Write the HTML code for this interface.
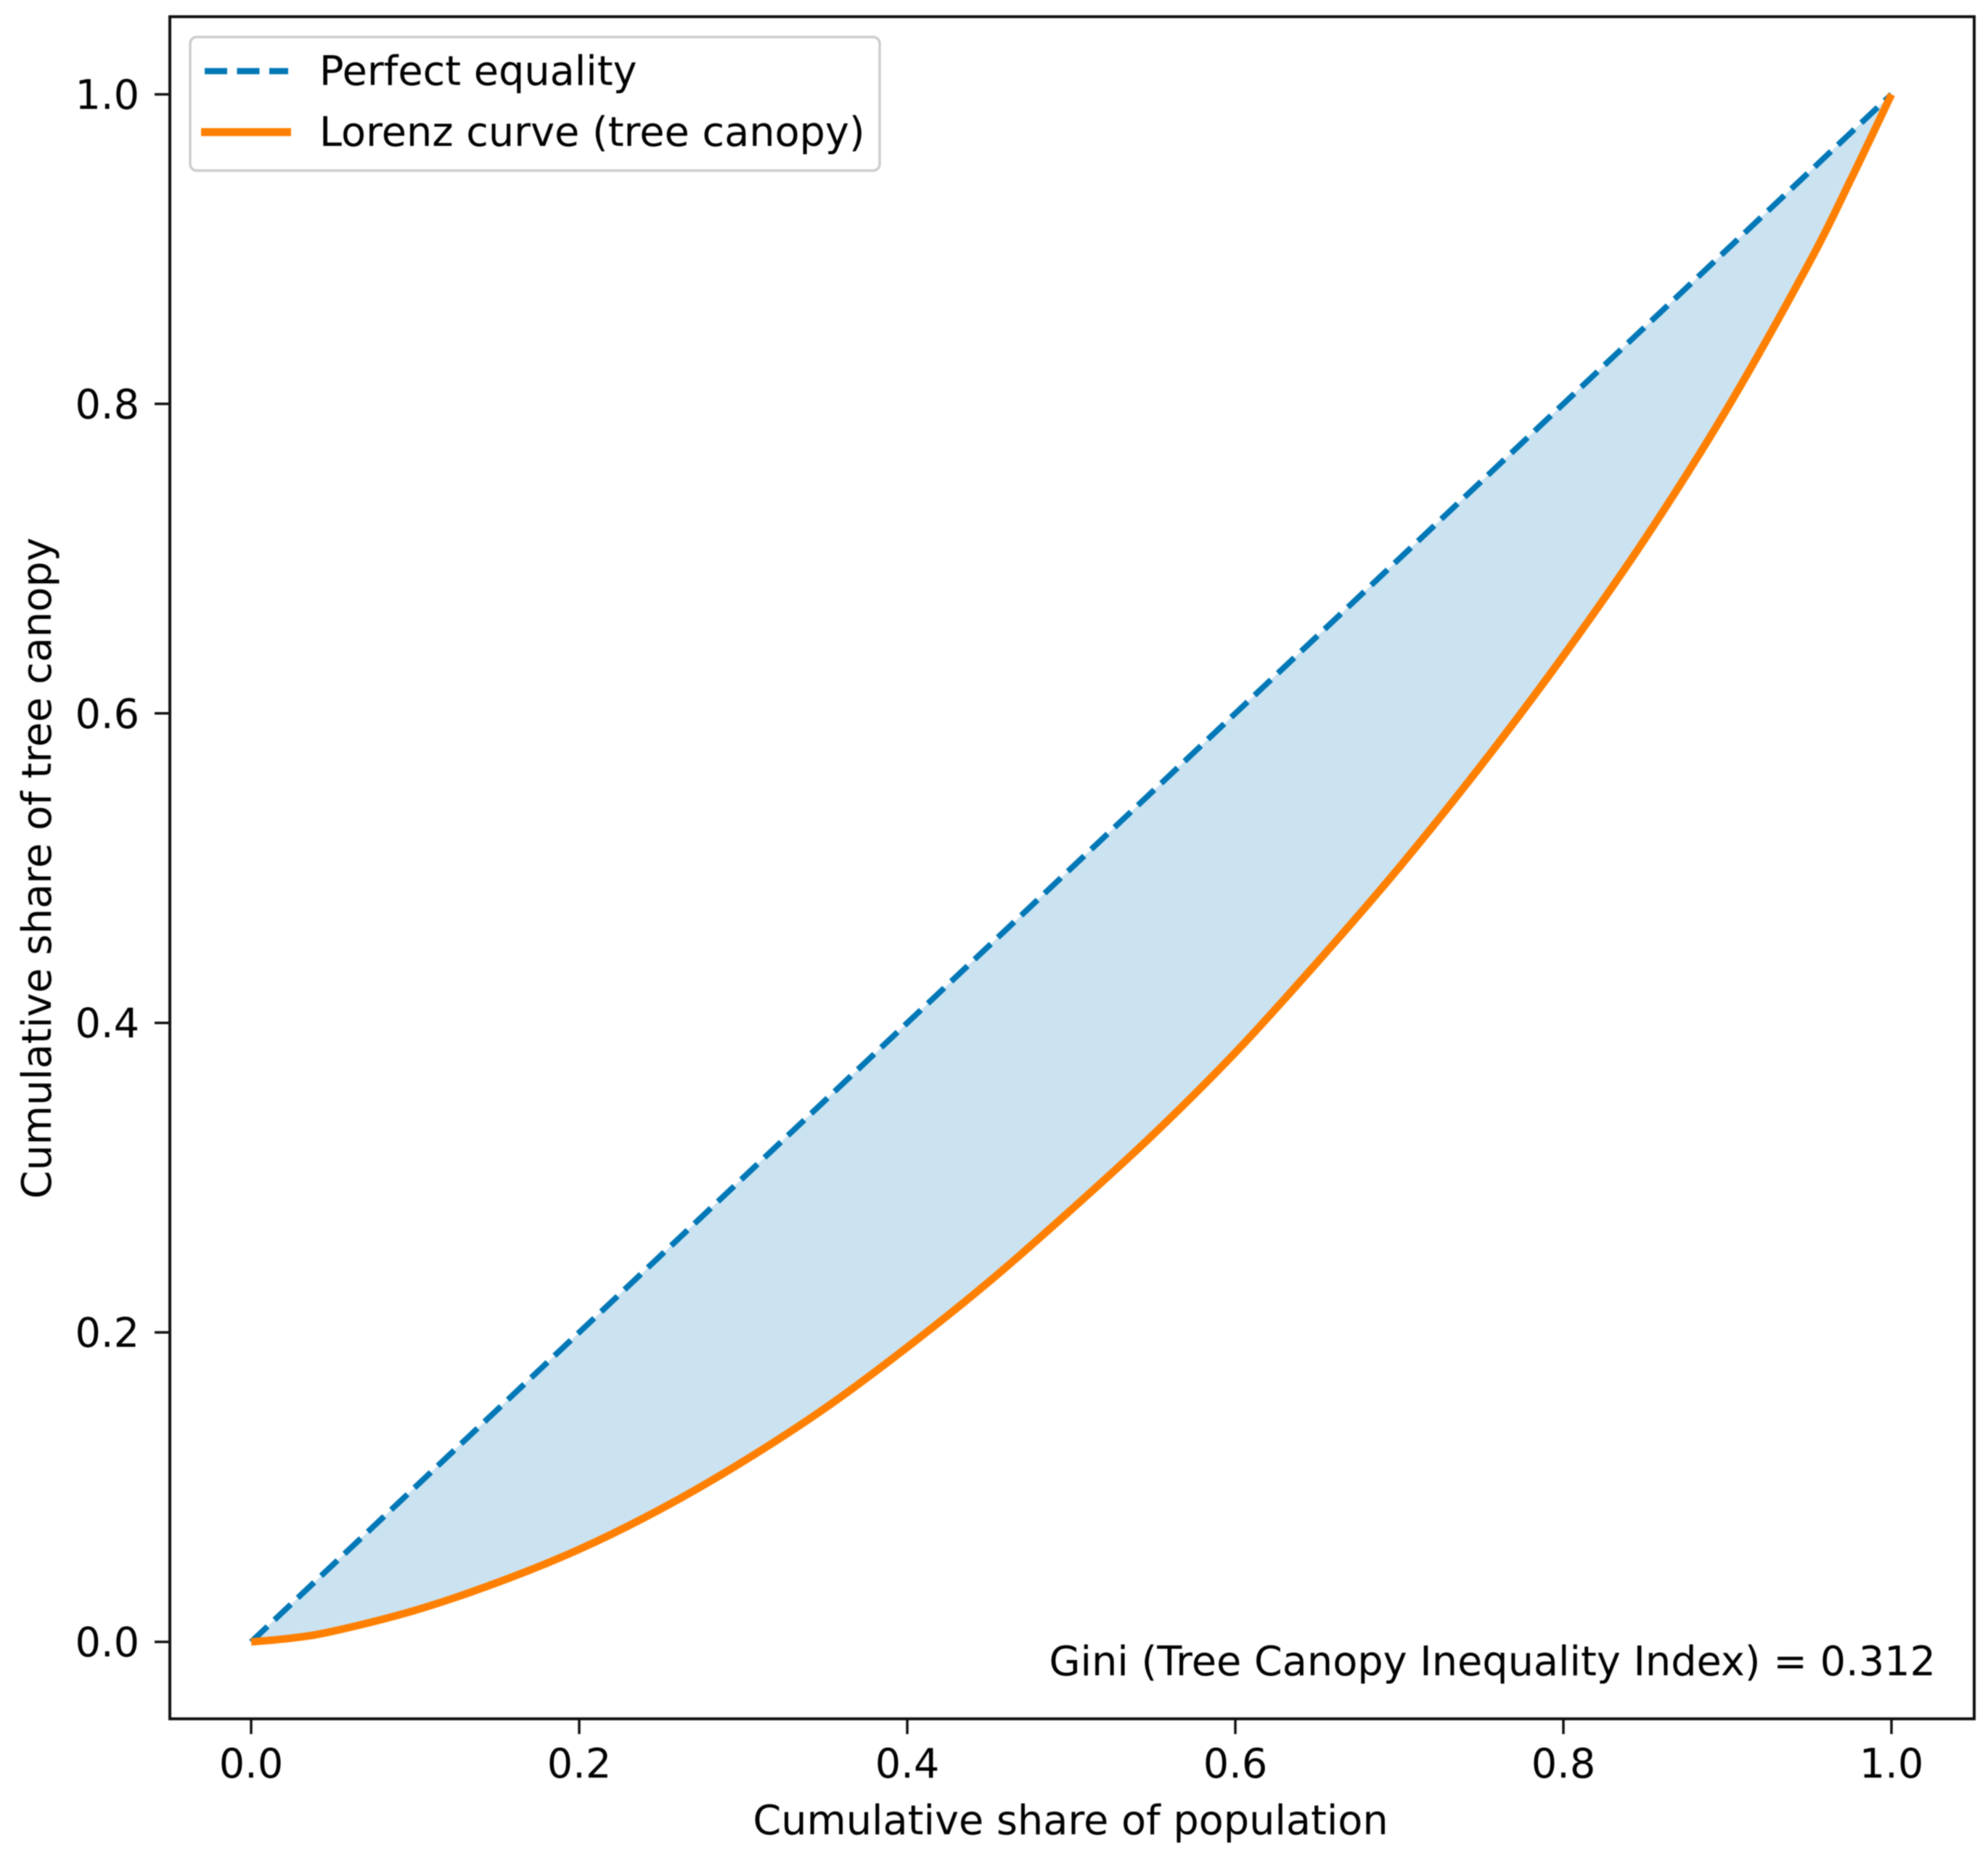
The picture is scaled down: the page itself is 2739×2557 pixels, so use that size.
<!DOCTYPE html>
<html lang="en">
<head>
<meta charset="utf-8">
<title>Lorenz curve of tree canopy</title>
<style>
  html, body { margin: 0; padding: 0; background: #fff; }
  body { width: 2739px; height: 2557px; overflow: hidden; }
  svg { display: block; filter: blur(0.9px); }
  text { font-family: "DejaVu Sans", "Liberation Sans", sans-serif; font-size: 55.7px; fill: #000000; }
</style>
</head>
<body>
<svg id="chart" xmlns="http://www.w3.org/2000/svg" width="2739" height="2557" viewBox="0 0 2739 2557">
  <rect x="0" y="0" width="2739" height="2557" fill="#ffffff"/>
  <g id="marks"></g>
  <g id="axes-frame" fill="none" stroke="#111111" stroke-width="4">
    <line x1="234" y1="21" x2="234" y2="2370"/>
    <line x1="2720" y1="21" x2="2720" y2="2370"/>
    <line x1="232" y1="23" x2="2722" y2="23"/>
    <line x1="232" y1="2368" x2="2722" y2="2368"/>
  </g>
  <g id="ticks"></g>
  <text x="1475" y="2527" text-anchor="middle">Cumulative share of population</text>
  <text transform="translate(70 1196) rotate(-90)" text-anchor="middle">Cumulative share of tree canopy</text>
  <text x="2667" y="2308" text-anchor="end">Gini (Tree Canopy Inequality Index) = 0.312</text>
  <g>
    <rect x="262" y="51" width="950" height="184" rx="9" ry="9" fill="#ffffff" fill-opacity="0.85" stroke="#cccccc" stroke-width="3.5"/>
    <line x1="282" y1="98" x2="397" y2="98" stroke="#0077b6" stroke-width="8.5" stroke-dasharray="31 13.5"/>
    <text x="440" y="117">Perfect equality</text>
    <line x1="277" y1="182" x2="401" y2="182" stroke="#ff7f00" stroke-width="11"/>
    <text x="440" y="201">Lorenz curve (tree canopy)</text>
  </g>
</svg>
<script>
const populationShare = [0, 0.025, 0.05, 0.1, 0.15, 0.2, 0.25, 0.3, 0.35, 0.4, 0.45, 0.5, 0.55, 0.6, 0.65, 0.7, 0.75, 0.8, 0.85, 0.9, 0.95, 0.975, 1];
const canopyShare = [0, 0.0025, 0.0069, 0.0204, 0.0383, 0.0598, 0.086, 0.1166, 0.1511, 0.1904, 0.2329, 0.2793, 0.3279, 0.3808, 0.4392, 0.5006, 0.5666, 0.6372, 0.7132, 0.7973, 0.8915, 0.9445, 1];
const equalityX = [0, 1];
const equalityY = [0, 1];
const xTickValues = [0, 0.2, 0.4, 0.6, 0.8, 1];
const yTickValues = [0, 0.2, 0.4, 0.6, 0.8, 1];
const xTickLabels = ['0.0', '0.2', '0.4', '0.6', '0.8', '1.0'];
const yTickLabels = ['0.0', '0.2', '0.4', '0.6', '0.8', '1.0'];

const SVG_NS = 'http://www.w3.org/2000/svg';
function xScale(v) { return 346 + v * 2260; }
function yScale(v) { return 2262 - v * 2132; }

function smoothSegments(xs, ys) {
  const pts = xs.map(function (x, i) { return [xScale(x), yScale(ys[i])]; });
  let d = '';
  for (let i = 0; i < pts.length - 1; i++) {
    const p0 = pts[Math.max(i - 1, 0)];
    const p1 = pts[i];
    const p2 = pts[i + 1];
    const p3 = pts[Math.min(i + 2, pts.length - 1)];
    const c1x = p1[0] + (p2[0] - p0[0]) / 6;
    const c1y = p1[1] + (p2[1] - p0[1]) / 6;
    const c2x = p2[0] - (p3[0] - p1[0]) / 6;
    const c2y = p2[1] - (p3[1] - p1[1]) / 6;
    d += ' C' + c1x.toFixed(2) + ' ' + c1y.toFixed(2) + ' ' + c2x.toFixed(2) + ' ' + c2y.toFixed(2) + ' ' + p2[0].toFixed(2) + ' ' + p2[1].toFixed(2);
  }
  return d;
}

const marks = document.getElementById('marks');
const ticks = document.getElementById('ticks');
const lorenzStart = 'M' + xScale(populationShare[0]) + ' ' + yScale(canopyShare[0]);
const lorenzBody = smoothSegments(populationShare, canopyShare);

const area = document.createElementNS(SVG_NS, 'path');


area.setAttribute('d', lorenzStart + lorenzBody + ' L' + xScale(equalityX[0]) + ' ' + yScale(equalityY[0]) + ' Z');
area.setAttribute('fill', '#cbe3f1');
marks.appendChild(area);

const equality = document.createElementNS(SVG_NS, 'line');


equality.setAttribute('x1', xScale(equalityX[0]));
equality.setAttribute('y1', yScale(equalityY[0]));
equality.setAttribute('x2', xScale(equalityX[1]));
equality.setAttribute('y2', yScale(equalityY[1]));
equality.setAttribute('stroke', '#0077b6');
equality.setAttribute('stroke-width', '8');
equality.setAttribute('stroke-dasharray', '31 13.2');
marks.appendChild(equality);

const lorenz = document.createElementNS(SVG_NS, 'path');


lorenz.setAttribute('d', lorenzStart + lorenzBody);
lorenz.setAttribute('fill', 'none');
lorenz.setAttribute('stroke', '#ff7f00');
lorenz.setAttribute('stroke-width', '10.5');
marks.appendChild(lorenz);

xTickValues.forEach(function (v, i) {
  const tick = document.createElementNS(SVG_NS, 'line');
  
  
  tick.setAttribute('x1', xScale(v));
  tick.setAttribute('x2', xScale(v));
  tick.setAttribute('y1', 2368);
  tick.setAttribute('y2', 2389);
  tick.setAttribute('stroke', '#111111');
  tick.setAttribute('stroke-width', '3.5');
  ticks.appendChild(tick);
  const label = document.createElementNS(SVG_NS, 'text');
  
  
  label.setAttribute('x', xScale(v));
  label.setAttribute('y', 2449);
  label.setAttribute('text-anchor', 'middle');
  label.textContent = xTickLabels[i];
  ticks.appendChild(label);
});

yTickValues.forEach(function (v, i) {
  const tick = document.createElementNS(SVG_NS, 'line');
  
  
  tick.setAttribute('x1', 213);
  tick.setAttribute('x2', 234);
  tick.setAttribute('y1', yScale(v));
  tick.setAttribute('y2', yScale(v));
  tick.setAttribute('stroke', '#111111');
  tick.setAttribute('stroke-width', '3.5');
  ticks.appendChild(tick);
  const label = document.createElementNS(SVG_NS, 'text');
  
  
  label.setAttribute('x', 192);
  label.setAttribute('y', yScale(v) + 20);
  label.setAttribute('text-anchor', 'end');
  label.textContent = yTickLabels[i];
  ticks.appendChild(label);
});
</script>
</body>
</html>
